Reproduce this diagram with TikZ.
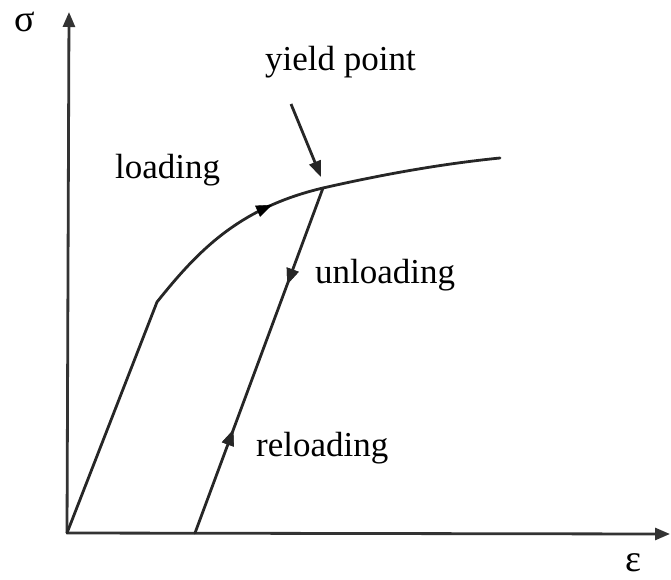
\documentclass[tikz,border=0pt]{standalone}
\usepackage{fontspec}
\setmainfont{Liberation Serif}
\usetikzlibrary{arrows.meta,decorations.markings}
\begin{document}
\begin{tikzpicture}[x=1pt,y=-1pt,
  curve/.style={line width=2.8pt,line join=round,line cap=round,black!85},
  axis/.style={line width=2.8pt,black!80,-{Triangle[length=15pt,width=12pt]}},
  midarrow/.style={decoration={markings,mark=at position #1 with {\arrow{Triangle[length=16pt,width=12pt]}}},postaction={decorate}},
  midarrowrev/.style={decoration={markings,mark=at position #1 with {\arrowreversed{Triangle[length=16pt,width=12pt]}}},postaction={decorate}},
  lbl/.style={font=\fontsize{35}{40}\selectfont,inner sep=0pt,anchor=base west}]
\useasboundingbox (0,0) rectangle (671,579);
\coordinate (O) at (67,533);
\coordinate (K) at (157,302);
\coordinate (Y) at (323,188);
\coordinate (E) at (500,158);
\coordinate (B) at (195,533);
\coordinate (YT) at (69,12);
\coordinate (XT) at (670,534);
\coordinate (PS) at (291,104);
\coordinate (PT) at (321,177);
% axes
\draw[axis] (O) -- (YT);
\draw[axis] (O) -- (XT);
% loading curve
\draw[curve] (O) -- (K) .. controls (197,252) and (238,208) .. (Y) .. controls (380,175) and (440,164) .. (E);
\path[midarrow=0.74] (K) .. controls (197,252) and (238,208) .. (Y);
% unloading / reloading
\draw[curve,midarrow=0.28,midarrowrev=0.70] (Y) -- (B);
% pointer
\draw[line width=2.8pt,black!85,-{Triangle[length=16pt,width=12pt]}] (PS) -- (PT);
% labels
\node[font=\fontsize{38}{40}\selectfont,inner sep=0pt] (sig) at (25,22) {σ};
\node[font=\fontsize{38}{40}\selectfont,inner sep=0pt] (eps) at (633,563) {ε};
\node[lbl] (yp) at (265,70) {yield point};
\node[lbl] (ld) at (115,178) {loading};
\node[lbl] (ul) at (315,283) {unloading};
\node[lbl] (rl) at (256,456) {reloading};
\end{tikzpicture}
\end{document}
